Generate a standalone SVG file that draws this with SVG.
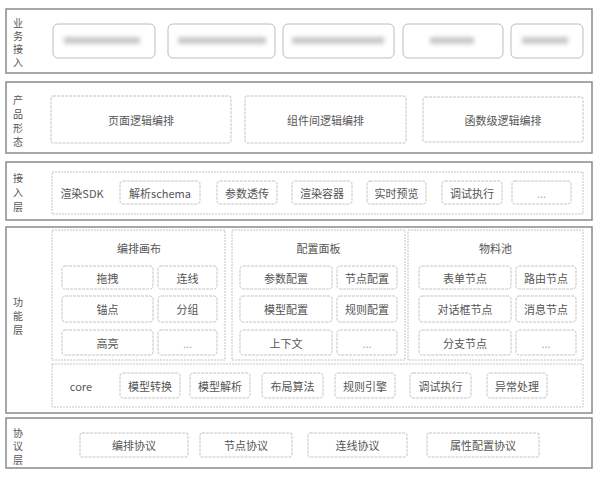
<svg xmlns="http://www.w3.org/2000/svg" width="600" height="480" viewBox="0 0 600 480">
<defs>
<filter id="blur" x="-20%" y="-100%" width="140%" height="300%"><feGaussianBlur stdDeviation="2"/></filter>
<style>
text{font-family:"Noto Sans CJK SC","Liberation Sans",sans-serif;fill:#555;font-size:11px;}
.layer{fill:#fff;stroke:#8a8a8a;stroke-width:1.5;}
.lbl{writing-mode:vertical-rl;text-anchor:start;font-size:10px;}
.panel{fill:none;stroke:#c4c4c4;stroke-width:1;stroke-dasharray:2 1;}
.box{fill:#fff;stroke:#c4c4c4;stroke-width:1;stroke-dasharray:3 1;}
.bbox{fill:#fff;stroke:#bdbdbd;stroke-width:1;}
.t{text-anchor:middle;dominant-baseline:central;}
.dots{fill:#aaa;}
.blur{fill:#c9c9c9;filter:url(#blur);}
</style>
</defs>
<rect width="600" height="480" fill="#fff"/>

<!-- Layer 1: 业务接入 -->
<g id="layer-business">
<rect class="layer" x="6" y="9" width="586" height="64"/>
<text class="lbl" x="18" y="18" letter-spacing="3">业务接入</text>
</g>
<g id="biz-1"><rect class="bbox" x="53" y="24" width="102" height="34" rx="5"/><rect class="blur" x="64" y="37" width="76" height="7"/></g>
<g id="biz-2"><rect class="bbox" x="168" y="24" width="107" height="34" rx="5"/><rect class="blur" x="178" y="37" width="88" height="7"/></g>
<g id="biz-3"><rect class="bbox" x="283" y="24" width="111" height="34" rx="5"/><rect class="blur" x="292" y="37" width="92" height="7"/></g>
<g id="biz-4"><rect class="bbox" x="403" y="24" width="100" height="34" rx="5"/><rect class="blur" x="430" y="37" width="44" height="7"/></g>
<g id="biz-5"><rect class="bbox" x="511" y="24" width="72" height="34" rx="5"/><rect class="blur" x="522" y="37" width="46" height="7"/></g>

<!-- Layer 2: 产品形态 -->
<g id="layer-product">
<rect class="layer" x="6" y="82" width="586" height="71"/>
<text class="lbl" x="18" y="95" letter-spacing="4">产品形态</text>
</g>
<g id="prod-1"><rect class="box" x="51" y="96" width="180" height="47" rx="2"/><text class="t" x="141" y="119.5">页面逻辑编排</text></g>
<g id="prod-2"><rect class="box" x="245" y="96" width="161" height="47" rx="2"/><text class="t" x="325.5" y="119.5">组件间逻辑编排</text></g>
<g id="prod-3"><rect class="box" x="423" y="97" width="160" height="45" rx="2"/><text class="t" x="503" y="119.5">函数级逻辑编排</text></g>

<!-- Layer 3: 接入层 -->
<g id="layer-access">
<rect class="layer" x="6" y="162" width="586" height="58"/>
<text class="lbl" x="18" y="173" letter-spacing="4.5">接入层</text>
<rect class="panel" x="52" y="172" width="531" height="42"/>
<text class="t" x="82" y="193">渲染SDK</text>
</g>
<g id="acc-1"><rect class="box" x="120" y="181" width="80" height="23" rx="3"/><text class="t" x="160" y="192.5">解析schema</text></g>
<g id="acc-2"><rect class="box" x="217" y="181" width="60" height="23" rx="3"/><text class="t" x="247" y="192.5">参数透传</text></g>
<g id="acc-3"><rect class="box" x="292" y="181" width="60" height="23" rx="3"/><text class="t" x="322" y="192.5">渲染容器</text></g>
<g id="acc-4"><rect class="box" x="367" y="181" width="59" height="23" rx="3"/><text class="t" x="396.5" y="192.5">实时预览</text></g>
<g id="acc-5"><rect class="box" x="442" y="181" width="60" height="23" rx="3"/><text class="t" x="472" y="192.5">调试执行</text></g>
<g id="acc-6"><rect class="box" x="512" y="181" width="59" height="23" rx="3"/><text class="t dots" x="541.5" y="192.5">...</text></g>

<!-- Layer 4: 功能层 -->
<g id="layer-function">
<rect class="layer" x="6" y="227" width="586" height="186"/>
<text class="lbl" x="18" y="297" letter-spacing="4">功能层</text>
</g>
<g id="panel-canvas">
<rect class="panel" x="52" y="230" width="173" height="130"/>
<text class="t" x="139" y="248">编排画布</text>
</g>
<g id="fn-drag"><rect class="box" x="62" y="266" width="91" height="23" rx="3"/><text class="t" x="107.5" y="277.5">拖拽</text></g>
<g id="fn-line"><rect class="box" x="158" y="266" width="59" height="23" rx="3"/><text class="t" x="187.5" y="277.5">连线</text></g>
<g id="fn-anchor"><rect class="box" x="62" y="296" width="91" height="26" rx="3"/><text class="t" x="107.5" y="309">锚点</text></g>
<g id="fn-group"><rect class="box" x="158" y="296" width="59" height="26" rx="3"/><text class="t" x="187.5" y="309">分组</text></g>
<g id="fn-highlight"><rect class="box" x="62" y="330" width="91" height="25" rx="3"/><text class="t" x="107.5" y="342.5">高亮</text></g>
<g id="fn-more1"><rect class="box" x="158" y="330" width="59" height="25" rx="3"/><text class="t dots" x="187.5" y="342.5">...</text></g>

<g id="panel-config">
<rect class="panel" x="232" y="230" width="173" height="130"/>
<text class="t" x="318.5" y="248">配置面板</text>
</g>
<g id="cfg-param"><rect class="box" x="240" y="266" width="92" height="23" rx="3"/><text class="t" x="286" y="277.5">参数配置</text></g>
<g id="cfg-node"><rect class="box" x="337" y="266" width="60" height="23" rx="3"/><text class="t" x="367" y="277.5">节点配置</text></g>
<g id="cfg-model"><rect class="box" x="240" y="296" width="92" height="26" rx="3"/><text class="t" x="286" y="309">模型配置</text></g>
<g id="cfg-rule"><rect class="box" x="337" y="296" width="60" height="26" rx="3"/><text class="t" x="367" y="309">规则配置</text></g>
<g id="cfg-context"><rect class="box" x="240" y="330" width="92" height="25" rx="3"/><text class="t" x="286" y="342.5">上下文</text></g>
<g id="cfg-more"><rect class="box" x="337" y="330" width="60" height="25" rx="3"/><text class="t dots" x="367" y="342.5">...</text></g>

<g id="panel-material">
<rect class="panel" x="408" y="230" width="175" height="130"/>
<text class="t" x="495.5" y="248">物料池</text>
</g>
<g id="mat-form"><rect class="box" x="419" y="266" width="92" height="23" rx="3"/><text class="t" x="465" y="277.5">表单节点</text></g>
<g id="mat-route"><rect class="box" x="516" y="266" width="60" height="23" rx="3"/><text class="t" x="546" y="277.5">路由节点</text></g>
<g id="mat-dialog"><rect class="box" x="419" y="296" width="92" height="26" rx="3"/><text class="t" x="465" y="309">对话框节点</text></g>
<g id="mat-msg"><rect class="box" x="516" y="296" width="60" height="26" rx="3"/><text class="t" x="546" y="309">消息节点</text></g>
<g id="mat-branch"><rect class="box" x="419" y="330" width="92" height="25" rx="3"/><text class="t" x="465" y="342.5">分支节点</text></g>
<g id="mat-more"><rect class="box" x="516" y="330" width="60" height="25" rx="3"/><text class="t dots" x="546" y="342.5">...</text></g>

<g id="panel-core">
<rect class="panel" x="52" y="364" width="531" height="43"/>
<text class="t" x="81" y="386">core</text>
</g>
<g id="core-1"><rect class="box" x="120" y="373" width="60" height="25" rx="3"/><text class="t" x="150" y="385.5">模型转换</text></g>
<g id="core-2"><rect class="box" x="190" y="373" width="60" height="25" rx="3"/><text class="t" x="220" y="385.5">模型解析</text></g>
<g id="core-3"><rect class="box" x="262" y="373" width="61" height="25" rx="3"/><text class="t" x="292.5" y="385.5">布局算法</text></g>
<g id="core-4"><rect class="box" x="335" y="373" width="60" height="25" rx="3"/><text class="t" x="365" y="385.5">规则引擎</text></g>
<g id="core-5"><rect class="box" x="410" y="373" width="61" height="25" rx="3"/><text class="t" x="440.5" y="385.5">调试执行</text></g>
<g id="core-6"><rect class="box" x="487" y="373" width="60" height="25" rx="3"/><text class="t" x="517" y="385.5">异常处理</text></g>

<!-- Layer 5: 协议层 -->
<g id="layer-protocol">
<rect class="layer" x="6" y="418" width="586" height="50"/>
<text class="lbl" x="18" y="428" letter-spacing="3.5">协议层</text>
</g>
<g id="proto-1"><rect class="box" x="80" y="433" width="108" height="24" rx="2"/><text class="t" x="134" y="445">编排协议</text></g>
<g id="proto-2"><rect class="box" x="200" y="433" width="92" height="24" rx="2"/><text class="t" x="246" y="445">节点协议</text></g>
<g id="proto-3"><rect class="box" x="308" y="433" width="99" height="24" rx="2"/><text class="t" x="357.5" y="445">连线协议</text></g>
<g id="proto-4"><rect class="box" x="427" y="433" width="112" height="24" rx="2"/><text class="t" x="483" y="445">属性配置协议</text></g>

<g id="connectors"></g>
</svg>
